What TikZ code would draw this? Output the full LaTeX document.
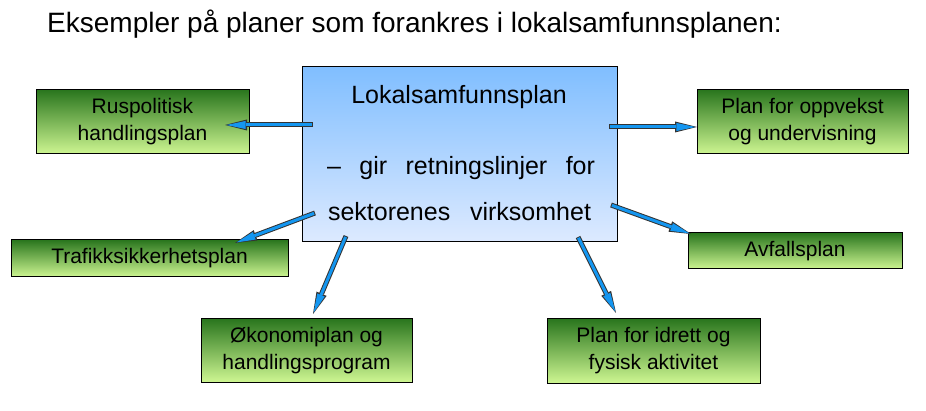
\documentclass[tikz,border=0pt]{standalone}
\usepackage{fontspec}
\setmainfont{Liberation Sans}
\usetikzlibrary{arrows.meta,shadings}

\definecolor{arrowblue}{RGB}{20,150,240}
\definecolor{leafdark}{RGB}{42,118,30}
\definecolor{leaflight}{RGB}{206,246,146}
\definecolor{skytop}{RGB}{128,190,255}
\definecolor{skybot}{RGB}{221,234,255}

\tikzset{
  planbox/.style={draw=black, line width=1pt, top color=leafdark, bottom color=leaflight,
    align=center, inner sep=0pt, font=\fontsize{21}{27}\selectfont},
  feed/.style={draw=black!80, line width=5pt, -{Triangle[length=22pt,width=11pt,line width=0pt]},
    postaction={draw=arrowblue, line width=3pt, shorten >=1.6pt, shorten <=1pt,
      -{Triangle[length=19pt,width=8pt,line width=0pt]}}}
}

\begin{document}
\begin{tikzpicture}[x=1pt,y=-1pt]
  \useasboundingbox (0,0) rectangle (926,411);
  % heading
  \node[anchor=base west, inner sep=0pt, font=\fontsize{28}{32}\selectfont] (title) at (47,33)
    {Eksempler på planer som forankres i lokalsamfunnsplanen:};
  % central plan
  \node[draw=black, line width=1pt, top color=skytop, bottom color=skybot,
    minimum width=315pt, minimum height=175pt, inner sep=0pt] (plan) at (459.5,154.5) {};
  \node[anchor=base, inner sep=0pt, font=\fontsize{25}{30}\selectfont] (planname) at (459,104)
    {Lokalsamfunnsplan};
  \node[anchor=base, inner sep=0pt, font=\fontsize{25}{30}\selectfont] (planline1) at (461,175)
    {\makebox[268pt][s]{– gir retningslinjer for}};
  \node[anchor=base, inner sep=0pt, font=\fontsize{25}{30}\selectfont] (planline2) at (459.5,221)
    {\makebox[263pt][s]{sektorenes virksomhet}};
  % sector plans
  \node[planbox, minimum width=213pt, minimum height=64pt] (rus) at (142.5,122)
    {Ruspolitisk\\handlingsplan};
  \node[planbox, minimum width=277pt, minimum height=37pt] (trafikk) at (149.5,258.5)
    {Trafikksikkerhetsplan};
  \node[planbox, minimum width=211pt, minimum height=64pt] (oppvekst) at (802.5,122)
    {Plan for oppvekst\\og undervisning};
  \node[planbox, minimum width=214pt, minimum height=36pt] (avfall) at (795,251)
    {Avfallsplan};
  \node[planbox, minimum width=211pt, minimum height=63pt] (okonomi) at (306.5,350.5)
    {Økonomiplan og\\handlingsprogram};
  \node[planbox, minimum width=213pt, minimum height=64pt] (idrett) at (653.5,351)
    {Plan for idrett og\\fysisk aktivitet};
  % arrow ends
  \coordinate (fromrus) at (313,125);
  \coordinate (torus) at (225,125);
  \coordinate (fromopp) at (609,127);
  \coordinate (toopp) at (697,127);
  \coordinate (fromtraf) at (315,213);
  \coordinate (totraf) at (235,243);
  \coordinate (fromavf) at (611,205);
  \coordinate (toavf) at (691,234);
  \coordinate (fromoko) at (346,236);
  \coordinate (tooko) at (313,314);
  \coordinate (fromidr) at (578,237);
  \coordinate (toidr) at (616,313);
  % arrows
  \draw[feed] (fromrus) -- (torus);
  \draw[feed] (fromopp) -- (toopp);
  \draw[feed] (fromtraf) -- (totraf);
  \draw[feed] (fromavf) -- (toavf);
  \draw[feed] (fromoko) -- (tooko);
  \draw[feed] (fromidr) -- (toidr);
\end{tikzpicture}
\end{document}
